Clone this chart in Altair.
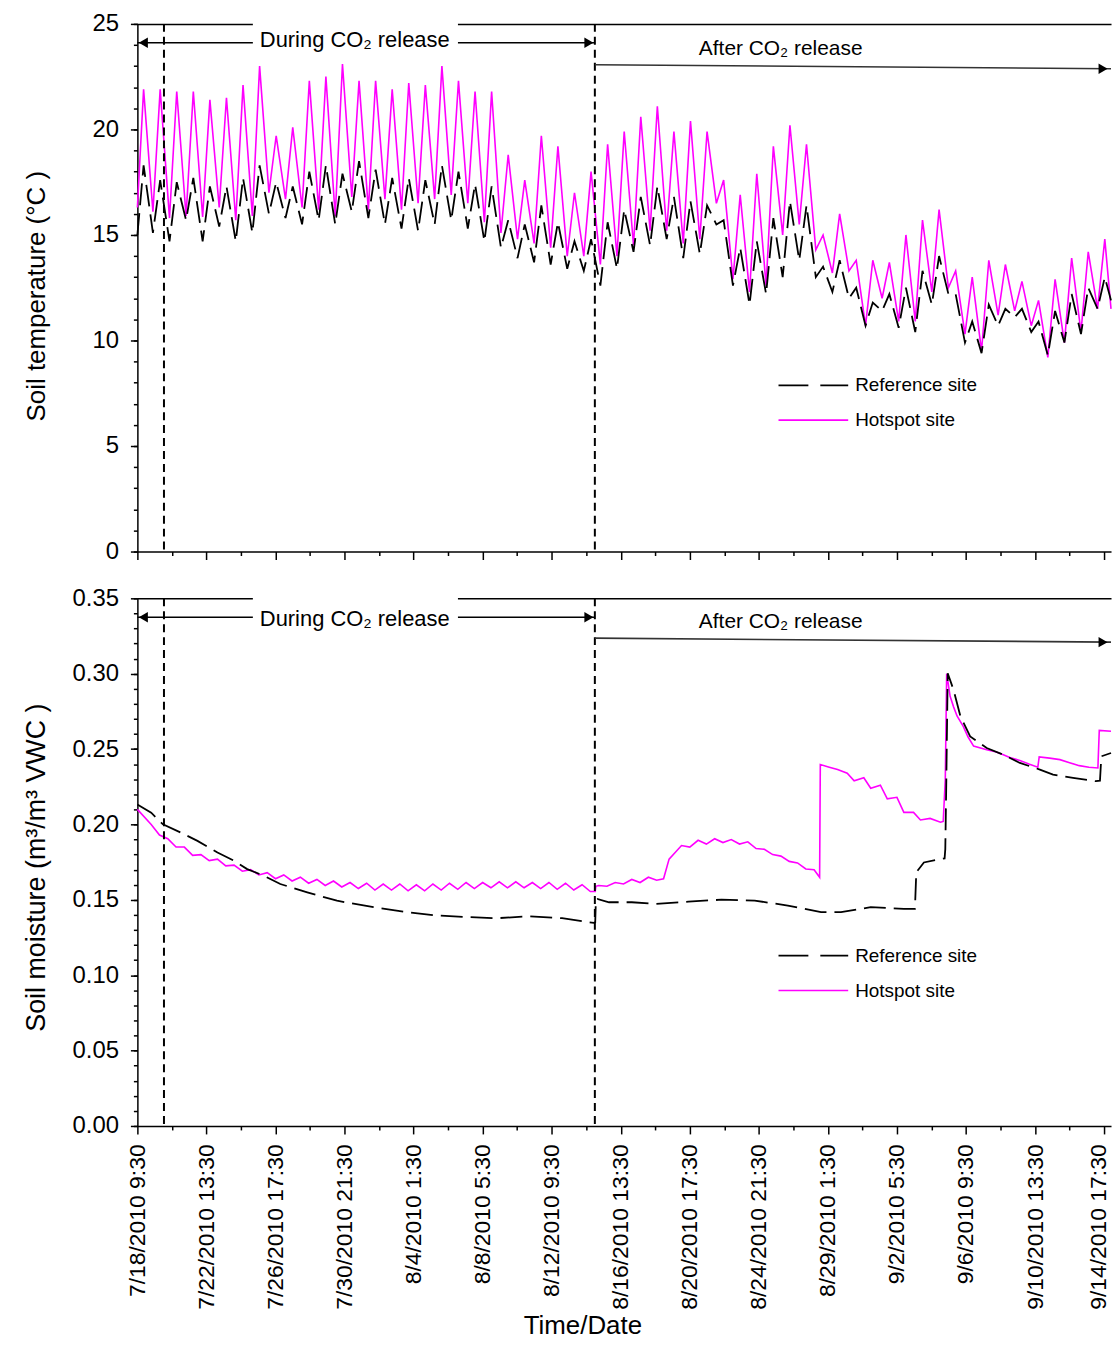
import altair as alt
import pandas as pd

# ---------------- data ----------------
START = "2010-07-18 09:30"
END = "2010-09-15 03:30"
RELEASE_EVENTS = ["2010-07-20 00:00", "2010-08-15 00:00"]
FIRST_PEAK = "2010-07-18 18:30"
FIRST_TROUGH = "2010-07-19 08:00"

x_tick_labels = ["7/18/2010 9:30", "7/22/2010 13:30", "7/26/2010 17:30", "7/30/2010 21:30",
                 "8/4/2010 1:30", "8/8/2010 5:30", "8/12/2010 9:30", "8/16/2010 13:30",
                 "8/20/2010 17:30", "8/24/2010 21:30", "8/29/2010 1:30", "9/2/2010 5:30",
                 "9/6/2010 9:30", "9/10/2010 13:30", "9/14/2010 17:30"]

# Soil temperature: daily maxima (evening) and minima (morning), deg C
hot_temp_start, hot_temp_end = 16.3, 11.5
ref_temp_start, ref_temp_end = 15.0, 11.9
hot_peaks = [21.9, 21.9, 21.8, 21.8, 21.4, 21.5, 22.1, 23.0, 19.7, 20.1, 22.3, 22.5, 23.1, 22.3,
             22.3, 21.9, 22.2, 22.1, 23.0, 22.3, 21.8, 21.8, 18.8, 17.6, 19.7, 19.2, 17.0, 18.0,
             19.3, 19.9, 20.6, 21.1, 19.9, 20.4, 19.9, 17.6, 16.9, 17.9, 19.2, 20.2, 19.3, 15.0,
             16.0, 13.8, 13.8, 13.7, 15.0, 15.7, 16.2, 13.3, 13.0, 13.8, 13.6, 12.8, 11.9, 12.9,
             13.9, 14.2, 14.8]
hot_troughs = [16.1, 15.8, 15.9, 15.85, 16.3, 15.7, 15.9, 17.0, 16.7, 16.3, 16.2, 15.9, 16.8, 16.2,
               16.7, 16.2, 16.5, 16.7, 16.9, 16.5, 15.6, 15.1, 14.8, 14.6, 14.4, 14.0, 14.0, 13.6,
               14.0, 14.5, 15.2, 15.2, 14.6, 14.8, 16.5, 12.9, 12.3, 12.6, 15.0, 15.5, 14.3, 13.2,
               13.3, 10.7, 12.0, 10.9, 10.9, 12.3, 12.5, 10.3, 9.5, 11.2, 11.4, 10.7, 9.2, 9.9,
               10.4, 11.5]
ref_peaks = [18.3, 17.6, 17.5, 17.7, 17.3, 17.3, 17.7, 18.3, 17.5, 17.3, 18.0, 18.3, 17.9, 18.5,
             18.1, 17.7, 17.7, 17.6, 18.3, 18.0, 17.4, 17.3, 15.7, 15.5, 16.4, 15.6, 14.7, 14.8,
             15.6, 16.2, 16.8, 17.3, 16.8, 16.6, 16.4, 15.7, 14.4, 14.7, 15.8, 16.6, 16.4, 13.5,
             13.8, 12.5, 11.8, 12.2, 12.5, 13.3, 14.0, 12.2, 10.9, 11.7, 11.5, 11.5, 10.9, 11.4,
             12.2, 12.5, 13.0]
ref_troughs = [15.1, 14.7, 15.7, 14.7, 15.4, 14.7, 15.1, 16.0, 15.8, 15.5, 15.7, 15.5, 16.1, 15.8,
               15.5, 15.3, 15.2, 15.5, 15.7, 15.3, 14.7, 14.4, 13.9, 13.7, 13.6, 13.4, 13.3, 12.6,
               13.4, 14.2, 14.5, 14.8, 13.9, 14.1, 15.5, 12.6, 11.7, 12.2, 13.0, 13.8, 13.0, 12.3,
               12.0, 10.7, 11.4, 10.6, 10.4, 11.7, 12.2, 9.9, 9.4, 10.7, 11.1, 10.4, 9.3, 9.9,
               10.3, 11.5]

# Soil moisture (m3/m3 VWC), hours after START
hot_moist_hours = [0, 20, 32, 44, 56, 68, 80, 92, 104, 116, 128, 140, 152, 164, 176, 188, 200, 212,
                   224, 236, 248, 260, 272, 284, 296, 308, 320, 332, 344, 356, 368, 380, 392, 404,
                   416, 428, 440, 452, 464, 476, 488, 500, 512, 524, 536, 548, 560, 572, 584, 596,
                   608, 620, 632, 644, 656, 663, 664, 668, 680, 692, 704, 716, 728, 740, 752, 762,
                   770, 788, 800, 812, 824, 836, 848, 860, 872, 884, 896, 908, 920, 932, 944, 956,
                   968, 980, 988, 989, 1002, 1014, 1028, 1038, 1052, 1062, 1076, 1086, 1100, 1110,
                   1124, 1134, 1148, 1163, 1167, 1170, 1172, 1177, 1182, 1187, 1196, 1203, 1211,
                   1230, 1244, 1254, 1266, 1278, 1292, 1304, 1306, 1321, 1336, 1350, 1364, 1378,
                   1391, 1393, 1410]
hot_moist = [0.2100, 0.2000, 0.1930, 0.1905, 0.1850, 0.1850, 0.1795, 0.1800, 0.1760, 0.1770, 0.1725,
             0.1730, 0.1690, 0.1700, 0.1665, 0.1680, 0.1640, 0.1665, 0.1625, 0.1650, 0.1610, 0.1635,
             0.1595, 0.1625, 0.1585, 0.1615, 0.1575, 0.1610, 0.1565, 0.1605, 0.1565, 0.1605, 0.1560,
             0.1600, 0.1560, 0.1605, 0.1565, 0.1610, 0.1570, 0.1615, 0.1575, 0.1615, 0.1580, 0.1620,
             0.1580, 0.1620, 0.1580, 0.1615, 0.1575, 0.1615, 0.1570, 0.1610, 0.1565, 0.1600, 0.1555,
             0.1555, 0.1590, 0.1595, 0.1590, 0.1615, 0.1605, 0.1635, 0.1615, 0.1650, 0.1630, 0.1640,
             0.1770, 0.1860, 0.1850, 0.1895, 0.1870, 0.1905, 0.1880, 0.1900, 0.1870, 0.1885, 0.1840,
             0.1835, 0.1800, 0.1790, 0.1755, 0.1745, 0.1705, 0.1700, 0.1650, 0.2397, 0.2380, 0.2365,
             0.2340, 0.2290, 0.2310, 0.2240, 0.2260, 0.2170, 0.2180, 0.2080, 0.2080, 0.2030, 0.2040,
             0.2015, 0.2020, 0.2300, 0.3000, 0.2850, 0.2780, 0.2720, 0.2650, 0.2580, 0.2520, 0.2496,
             0.2480, 0.2463, 0.2440, 0.2425, 0.2400, 0.2380, 0.2448, 0.2440, 0.2430, 0.2410, 0.2390,
             0.2380, 0.2375, 0.2624, 0.2618]
ref_moist_hours = [0, 20, 37, 63, 87, 116, 140, 159, 183, 207, 246, 289, 342, 390, 433, 481, 520,
                   568, 615, 661, 663, 664, 666, 683, 716, 750, 798, 846, 894, 942, 990, 1019, 1062,
                   1110, 1126, 1128, 1139, 1163, 1169, 1170, 1171.5, 1173.5, 1182, 1192, 1206, 1230,
                   1254, 1278, 1307, 1326, 1355, 1388, 1394, 1396, 1410]
ref_moist = [0.2133, 0.2078, 0.2001, 0.1946, 0.1891, 0.1814, 0.1759, 0.1704, 0.1660, 0.1605, 0.1550,
             0.1494, 0.1451, 0.1418, 0.1396, 0.1385, 0.1378, 0.1391, 0.1378, 0.1347, 0.1350, 0.1500,
             0.1506, 0.1484, 0.1484, 0.1473, 0.1488, 0.1501, 0.1495, 0.1462, 0.1418, 0.1418, 0.1451,
             0.1440, 0.1440, 0.1682, 0.1748, 0.1770, 0.1775, 0.1836, 0.2298, 0.3003, 0.2892, 0.2716,
             0.2584, 0.2507, 0.2463, 0.2408, 0.2364, 0.2331, 0.2309, 0.2287, 0.2290, 0.2452, 0.2474]

# ---------------- helpers ----------------
FONT = "Liberation Sans"
MAGENTA = "#ff00ff"
t0 = pd.Timestamp(START)
t_end = pd.Timestamp(END)


def dt(ts):
    ts = pd.Timestamp(ts)
    return alt.DateTime(year=ts.year, month=ts.month, date=ts.day, hours=ts.hour, minutes=ts.minute)


major_ts = [pd.to_datetime(s, format="%m/%d/%Y %H:%M") for s in x_tick_labels]
minor_ts = [a + (b - a) / 2 for a, b in zip(major_ts[:-1], major_ts[1:])]
major_dt = [dt(t) for t in major_ts]
minor_dt = [dt(t) for t in minor_ts]


def temp_frame(start_val, peaks, troughs, end_val):
    times, vals = [t0], [start_val]
    for k, p in enumerate(peaks):
        times.append(pd.Timestamp(FIRST_PEAK) + pd.Timedelta(days=k))
        vals.append(p)
        if k < len(troughs):
            times.append(pd.Timestamp(FIRST_TROUGH) + pd.Timedelta(days=k))
            vals.append(troughs[k])
    times.append(t_end)
    vals.append(end_val)
    return pd.DataFrame({"t": times, "v": vals})


def moist_frame(hours, vals):
    return pd.DataFrame({"t": [t0 + pd.Timedelta(hours=h) for h in hours], "v": vals})


xscale = alt.Scale(domain=[dt(t0), dt(t_end)])
events_df = pd.DataFrame({"t": pd.to_datetime(RELEASE_EVENTS)})
one = pd.DataFrame({"a": [0]})


def panel(hot_df, ref_df, y_dom, y_major, y_minor, y_fmt, y_title, y_title_y, y_title_size,
          bottom, ann):
    yscale = alt.Scale(domain=y_dom, nice=False, zero=False)
    if bottom:
        x_major_axis = alt.Axis(values=major_dt, format="%-m/%-d/%Y %-H:%M", formatType="time",
                                labelAngle=270, labelFontSize=23, labelFlush=False,
                                labelOffset=alt.expr("datum.index >= 0.999 ? -6 : 0"),
                                labelPadding=10, tickSize=8, title="Time/Date",
                                titleFontSize=26, titlePadding=3, titleX=447,
                                orient="bottom", grid=False)
    else:
        x_major_axis = alt.Axis(values=major_dt, labels=False, tickSize=8, title=None,
                                orient="bottom", grid=False)
    x_minor_axis = alt.Axis(values=minor_dt, labels=False, domain=False, tickSize=4,
                            title=None, orient="bottom", grid=False)
    x_top_axis = alt.Axis(orient="top", labels=False, ticks=False, domain=True, title=None,
                          grid=False)
    y_major_axis = alt.Axis(values=y_major, format=y_fmt, labelFontSize=24, tickSize=7,
                            labelPadding=12, title=y_title, titleFontSize=y_title_size,
                            titleAngle=270, titleX=-101, titleY=y_title_y, titleAlign="center",
                            titleBaseline="middle", orient="left", grid=False)
    y_minor_axis = alt.Axis(values=y_minor, labels=False, domain=False, tickSize=4,
                            title=None, orient="left", grid=False)

    hot = alt.Chart(hot_df).mark_line(color=MAGENTA, strokeWidth=1.6).encode(
        x=alt.X("t:T", scale=xscale, axis=x_major_axis),
        y=alt.Y("v:Q", scale=yscale, axis=y_major_axis))
    ref = alt.Chart(ref_df).mark_line(color="black", strokeWidth=1.8, strokeDash=[22, 8]).encode(
        x=alt.X("t:T", scale=xscale, axis=x_minor_axis),
        y=alt.Y("v:Q", scale=yscale, axis=y_minor_axis))
    events = alt.Chart(events_df).mark_rule(color="black", strokeWidth=2,
                                            strokeDash=[8, 5]).encode(
        x=alt.X("t:T", scale=xscale, axis=x_top_axis))

    during_df = pd.DataFrame({"t": [t0], "t2": [pd.Timestamp(RELEASE_EVENTS[1])]})
    after_df = pd.DataFrame({"t": [pd.Timestamp(RELEASE_EVENTS[1])], "t2": [t_end]})

    during_line = alt.Chart(during_df).mark_rule(color="black", strokeWidth=1.6).encode(
        x=alt.X("t:T", scale=xscale, axis=None), x2="t2:T", y=alt.value(ann["during_y"]))
    after_line = alt.Chart(after_df).mark_rule(color="#333333", strokeWidth=1.6).encode(
        x=alt.X("t:T", scale=xscale, axis=None), x2="t2:T",
        y=alt.value(ann["after_y"][0]), y2=alt.value(ann["after_y"][1]))
    box = alt.Chart(one).mark_rect(color="white").encode(
        x=alt.value(116), x2=alt.value(322), y=alt.value(-8), y2=alt.value(ann["during_y"] + 13))
    during_text = alt.Chart(one).mark_text(align="left", baseline="middle", font=FONT,
                                           fontSize=22, color="black").encode(
        x=alt.value(123), y=alt.value(ann["during_text_y"]),
        text=alt.value("During CO\u2082 release"))
    after_text = alt.Chart(one).mark_text(align="left", baseline="middle", font=FONT,
                                          fontSize=21, color="black").encode(
        x=alt.value(564), y=alt.value(ann["after_text_y"]),
        text=alt.value("After CO\u2082 release"))
    head_l = alt.Chart(during_df).mark_point(shape="triangle-left", filled=True, size=110,
                                             color="black", opacity=1, xOffset=6).encode(
        x=alt.X("t:T", scale=xscale, axis=None), y=alt.value(ann["during_y"]))
    head_r = alt.Chart(during_df).mark_point(shape="triangle-right", filled=True, size=110,
                                             color="black", opacity=1, xOffset=-6).encode(
        x=alt.X("t2:T", scale=xscale, axis=None), y=alt.value(ann["during_y"]))
    head_a = alt.Chart(after_df).mark_point(shape="triangle-right", filled=True, size=110,
                                            color="black", opacity=1, xOffset=-8).encode(
        x=alt.X("t2:T", scale=xscale, axis=None), y=alt.value(ann["after_y"][1]))

    ly1, ly2 = ann["legend_y"]
    leg_ref = alt.Chart(one).mark_rule(color="black", strokeWidth=1.8,
                                       strokeDash=[30, 12]).encode(
        x=alt.value(644), x2=alt.value(714), y=alt.value(ly1))
    leg_hot = alt.Chart(one).mark_rule(color=MAGENTA, strokeWidth=1.6).encode(
        x=alt.value(644), x2=alt.value(714), y=alt.value(ly2))
    leg_t1 = alt.Chart(one).mark_text(align="left", baseline="middle", font=FONT, fontSize=19,
                                      color="black").encode(
        x=alt.value(721), y=alt.value(ly1), text=alt.value("Reference site"))
    leg_t2 = alt.Chart(one).mark_text(align="left", baseline="middle", font=FONT, fontSize=19,
                                      color="black").encode(
        x=alt.value(721), y=alt.value(ly2), text=alt.value("Hotspot site"))

    return alt.layer(hot, ref, events, during_line, after_line, box, during_text, after_text,
                     head_l, head_r, head_a, leg_ref, leg_hot, leg_t1, leg_t2).resolve_axis(
        x="independent", y="independent").properties(width=978, height=530)


hot_t = temp_frame(hot_temp_start, hot_peaks, hot_troughs, hot_temp_end)
ref_t = temp_frame(ref_temp_start, ref_peaks, ref_troughs, ref_temp_end)
hot_m = moist_frame(hot_moist_hours, hot_moist)
ref_m = moist_frame(ref_moist_hours, ref_moist)

top = panel(hot_t, ref_t, [0, 25], [0, 5, 10, 15, 20, 25], list(range(0, 26)), "d",
            "Soil temperature (\u00b0C )", 273, 26, False,
            {"during_y": 19, "during_text_y": 16, "after_y": (41, 45), "after_text_y": 25,
             "legend_y": (363, 398)})
bottom = panel(hot_m, ref_m, [0, 0.35], [round(0.05 * i, 2) for i in range(8)],
               [round(0.01 * i, 2) for i in range(36)], ".2f",
               "Soil moisture (m\u00b3/m\u00b3 VWC )", 270, 27, True,
               {"during_y": 19, "during_text_y": 21, "after_y": (40, 44), "after_text_y": 24,
                "legend_y": (359, 394)})

chart = alt.vconcat(top, bottom, spacing=47, bounds="flush").properties(
    padding={"left": 23, "top": 9, "right": 0, "bottom": 0},
    background="white",
).configure_view(stroke=None).configure_axis(
    labelFont=FONT, titleFont=FONT, labelColor="black", titleColor="black",
    domainColor="black", tickColor="black", domainWidth=1.5, tickWidth=1.5,
    titleFontWeight="normal", grid=False)

chart.save("out.html", embed_options={"renderer": "svg", "actions": False})
